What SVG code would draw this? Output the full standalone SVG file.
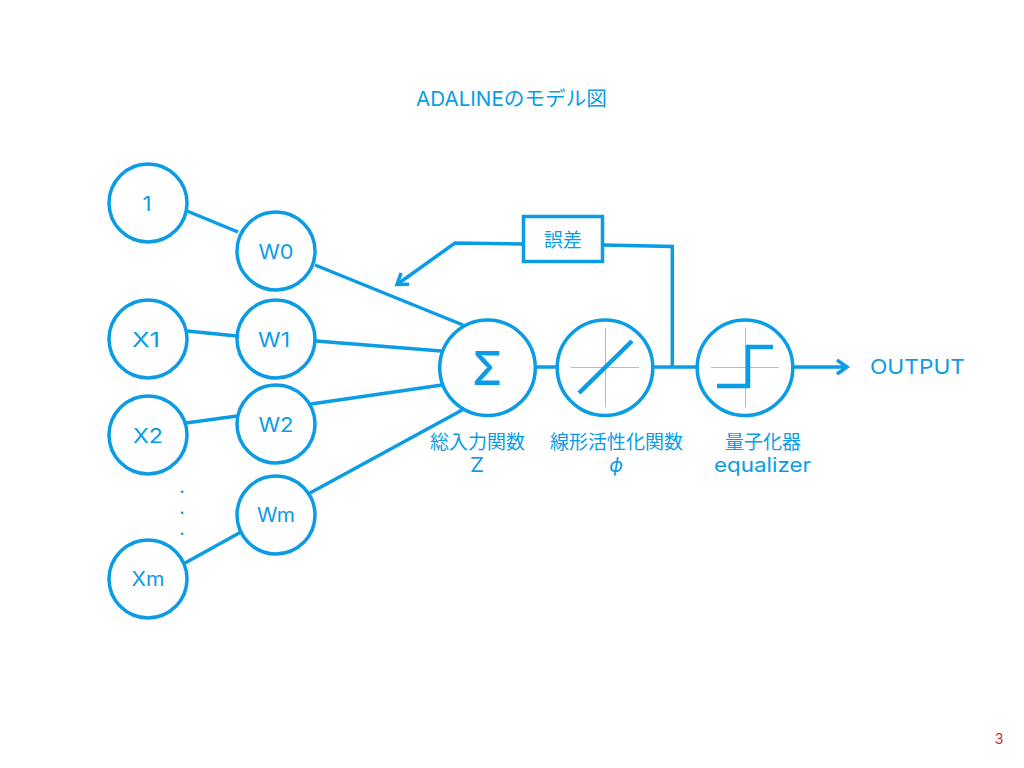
<svg xmlns="http://www.w3.org/2000/svg" width="1024" height="768" viewBox="0 0 1024 768">
<style>
text{font-family:"Inter","Noto Sans CJK JP",sans-serif;fill:#0a9ce4;font-size:20px;text-anchor:middle}
.c{fill:#fff;stroke:#0a9ce4;stroke-width:3.500}
.l{fill:none;stroke:#0a9ce4;stroke-width:3.500}
.t{stroke:#7fcdf0;stroke-width:1;fill:none}
.g{fill:none;stroke:#0a9ce4;stroke-width:4.500}
.d{font-size:15px;font-weight:700}
</style>
<defs><marker id="a" markerUnits="userSpaceOnUse" markerWidth="20" markerHeight="20" refX="15" refY="8" orient="auto"><path d="M5 1L15 8L5 15" fill="none" stroke="#0a9ce4" stroke-width="3.500"/></marker></defs>
<rect width="1024" height="768" fill="#fff"/>
<text x="511.500" y="106" textLength="191" lengthAdjust="spacingAndGlyphs">ADALINEのモデル図</text>
<g id="connectors">
<path class="l" d="M187 211L238 232"/>
<path class="l" d="M187 331L237 336"/>
<path class="l" d="M186 423L237 416"/>
<path class="l" d="M185 563L241 532"/>
<path class="l" d="M315 265L463 325"/>
<path class="l" d="M316 341L441 351"/>
<path class="l" d="M311 404L442 385"/>
<path class="l" d="M310 493L464 409"/>
<path class="l" d="M537 367H556"/>
<path class="l" d="M654 367H696"/>
<path class="l" d="M672.300 367V246.500L603 245"/>
<path class="l" marker-end="url(#a)" d="M523 244L455 243L397 284.500"/>
<path class="l" marker-end="url(#a)" d="M794 367H847"/>
</g>
<g id="n1"><circle class="c" cx="148" cy="203" r="39"/><text x="147" y="211" textLength="9" lengthAdjust="spacingAndGlyphs">1</text></g>
<g id="w0"><circle class="c" cx="276" cy="251" r="39"/><text x="276" y="259" textLength="35" lengthAdjust="spacingAndGlyphs">W0</text></g>
<g id="x1"><circle class="c" cx="148" cy="339" r="39"/><text x="146" y="347" textLength="28" lengthAdjust="spacingAndGlyphs">X1</text></g>
<g id="w1"><circle class="c" cx="276" cy="339" r="39"/><text x="274" y="347" textLength="32" lengthAdjust="spacingAndGlyphs">W1</text></g>
<g id="x2"><circle class="c" cx="148" cy="435" r="39"/><text x="148" y="443" textLength="30" lengthAdjust="spacingAndGlyphs">X2</text></g>
<g id="w2"><circle class="c" cx="276" cy="424" r="39"/><text x="276" y="432" textLength="35" lengthAdjust="spacingAndGlyphs">W2</text></g>
<g id="wm"><circle class="c" cx="276" cy="515" r="39"/><text x="276" y="522" textLength="38" lengthAdjust="spacingAndGlyphs">Wm</text></g>
<g id="xm"><circle class="c" cx="148" cy="579" r="39"/><text x="148" y="586" textLength="33" lengthAdjust="spacingAndGlyphs">Xm</text></g>
<g id="dots"><text class="d" x="182" y="493">.</text><text class="d" x="182" y="514">.</text><text class="d" x="182" y="535">.</text></g>
<g id="sum"><circle class="c" cx="487.500" cy="367.700" r="47.800"/><text x="487" y="385" style="font-size:46px;font-weight:500" textLength="30" lengthAdjust="spacingAndGlyphs">Σ</text></g>
<g id="act"><circle class="c" cx="605" cy="367.700" r="47.800"/><path class="t" d="M571 367.500H639M605.500 328V407"/><path class="g" d="M579 393L632 341"/></g>
<g id="quant"><circle class="c" cx="745" cy="367.700" r="47.800"/><path class="t" d="M711 367.500H779M745.500 328V407"/><path class="g" d="M717 386H748V347H773"/></g>
<g id="err"><rect x="523.500" y="216.500" width="79" height="45" fill="#fff" stroke="#0a9ce4" stroke-width="3.500"/><text style="font-size:19px" x="563" y="247" textLength="38">誤差</text></g>
<text style="font-size:19px" x="477.500" y="449" textLength="95">総入力関数</text><text x="477" y="472" textLength="14" lengthAdjust="spacingAndGlyphs">Z</text>
<text style="font-size:19px" x="616.500" y="449" textLength="133">線形活性化関数</text><text x="616" y="472" style="font-style:italic">ϕ</text>
<text style="font-size:19px" x="763" y="449" textLength="76">量子化器</text><text x="762.500" y="472" textLength="97" lengthAdjust="spacingAndGlyphs">equalizer</text>
<text x="917.500" y="374" textLength="95" lengthAdjust="spacingAndGlyphs">OUTPUT</text>
<text x="999" y="744" style="font-size:14px;fill:#c8322d">3</text>
</svg>
